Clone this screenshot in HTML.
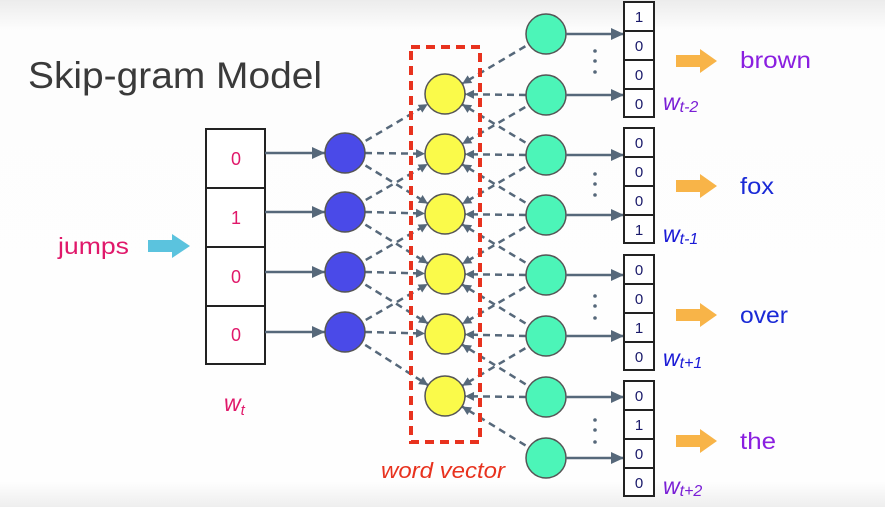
<!DOCTYPE html>
<html><head><meta charset="utf-8"><style>
html,body{margin:0;padding:0;background:#fff;}
svg{display:block;}
text{font-family:"Liberation Sans",sans-serif;}
</style></head><body>
<svg width="885" height="507" viewBox="0 0 885 507" xmlns="http://www.w3.org/2000/svg">
<defs>
<linearGradient id="bg" x1="0" y1="0" x2="0" y2="1">
<stop offset="0" stop-color="#ececec"/><stop offset="0.06" stop-color="#fdfdfd"/><stop offset="0.95" stop-color="#fefefe"/><stop offset="1" stop-color="#eeeeee"/>
</linearGradient>
<marker id="ah" markerUnits="userSpaceOnUse" markerWidth="60" markerHeight="20" viewBox="-40 -10 60 20" refX="0" refY="0" orient="auto">
<path d="M-29,-4.5 L-20,0 L-29,4.5 Z" fill="#56687a"/>
</marker>
<marker id="ah2" markerUnits="userSpaceOnUse" markerWidth="20" markerHeight="20" viewBox="-20 -10 20 20" refX="0" refY="0" orient="auto">
<path d="M-13,-6 L0,0 L-13,6 Z" fill="#56687a"/>
</marker>
</defs>
<rect width="885" height="507" fill="url(#bg)"/>
<text x="28" y="88" font-size="37" fill="#3a3a3a" textLength="294" lengthAdjust="spacingAndGlyphs">Skip-gram Model</text>

<g stroke="#222" stroke-width="2" fill="#fff">
<rect x="206" y="129" width="59" height="59"/><rect x="206" y="188" width="59" height="59"/>
<rect x="206" y="247" width="59" height="59"/><rect x="206" y="306" width="59" height="58"/>
</g>
<g font-size="18" fill="#e0186a" text-anchor="middle">
<text x="236" y="165">0</text><text x="236" y="224">1</text><text x="236" y="283">0</text><text x="236" y="341">0</text>
</g>
<text x="58" y="254" font-size="23" fill="#e0186a" textLength="71" lengthAdjust="spacingAndGlyphs">jumps</text>
<path d="M148,240 H172 V234 L190,246 L172,258 V252 H148 Z" fill="#5bc3de"/>
<text x="224" y="411" font-size="23" font-style="italic" font-family="Liberation Serif,serif" fill="#e0186a">w<tspan font-size="15" dy="4">t</tspan></text>

<g stroke="#56687a" stroke-width="2.5" marker-end="url(#ah2)">
<line x1="265" y1="153" x2="325" y2="153"/><line x1="265" y1="212" x2="325" y2="212"/>
<line x1="265" y1="272" x2="325" y2="272"/><line x1="265" y1="332" x2="325" y2="332"/>
</g>

<g stroke="#56687a" stroke-width="2.5" stroke-dasharray="7,5" marker-end="url(#ah)">
<line x1="345" y1="153" x2="445" y2="94"/><line x1="365" y1="153" x2="445" y2="154"/><line x1="345" y1="153" x2="445" y2="214"/>
<line x1="345" y1="212" x2="445" y2="154"/><line x1="365" y1="212" x2="445" y2="214"/><line x1="345" y1="212" x2="445" y2="274"/>
<line x1="345" y1="272" x2="445" y2="214"/><line x1="365" y1="272" x2="445" y2="274"/><line x1="345" y1="272" x2="445" y2="334"/>
<line x1="345" y1="332" x2="445" y2="274"/><line x1="365" y1="332" x2="445" y2="334"/><line x1="345" y1="332" x2="445" y2="396"/>

<line x1="546" y1="34" x2="445" y2="94"/>
<line x1="526" y1="95" x2="445" y2="94"/><line x1="546" y1="95" x2="445" y2="154"/>
<line x1="546" y1="155" x2="445" y2="94"/><line x1="526" y1="155" x2="445" y2="154"/><line x1="546" y1="155" x2="445" y2="214"/>
<line x1="546" y1="215" x2="445" y2="154"/><line x1="526" y1="215" x2="445" y2="214"/><line x1="546" y1="215" x2="445" y2="274"/>
<line x1="546" y1="275" x2="445" y2="214"/><line x1="526" y1="275" x2="445" y2="274"/><line x1="546" y1="275" x2="445" y2="334"/>
<line x1="546" y1="336" x2="445" y2="274"/><line x1="526" y1="336" x2="445" y2="334"/><line x1="546" y1="336" x2="445" y2="396"/>
<line x1="546" y1="397" x2="445" y2="334"/><line x1="526" y1="397" x2="445" y2="396"/>
<line x1="546" y1="458" x2="445" y2="396"/>
</g>

<rect x="411" y="47" width="69" height="395" fill="none" stroke="#e8321e" stroke-width="4" stroke-dasharray="9,6"/>
<text x="381" y="478" font-size="22" font-style="italic" fill="#e8321e" textLength="124" lengthAdjust="spacingAndGlyphs">word vector</text>

<g fill="#4a4ae8" stroke="#555" stroke-width="1.5">
<circle cx="345" cy="153" r="20"/><circle cx="345" cy="212" r="20"/><circle cx="345" cy="272" r="20"/><circle cx="345" cy="332" r="20"/>
</g>
<g fill="#fafa4a" stroke="#555" stroke-width="1.5">
<circle cx="445" cy="94" r="20"/><circle cx="445" cy="154" r="20"/><circle cx="445" cy="214" r="20"/>
<circle cx="445" cy="274" r="20"/><circle cx="445" cy="334" r="20"/><circle cx="445" cy="396" r="20"/>
</g>
<g fill="#4cf5b8" stroke="#555" stroke-width="1.5">
<circle cx="546" cy="34" r="20"/><circle cx="546" cy="95" r="20"/><circle cx="546" cy="155" r="20"/><circle cx="546" cy="215" r="20"/>
<circle cx="546" cy="275" r="20"/><circle cx="546" cy="336" r="20"/><circle cx="546" cy="397" r="20"/><circle cx="546" cy="458" r="20"/>
</g>

<g stroke="#56687a" stroke-width="2.5" marker-end="url(#ah2)">
<line x1="566" y1="34" x2="624" y2="34"/><line x1="566" y1="95" x2="624" y2="95"/>
<line x1="566" y1="155" x2="624" y2="155"/><line x1="566" y1="215" x2="624" y2="215"/>
<line x1="566" y1="275" x2="624" y2="275"/><line x1="566" y1="336" x2="624" y2="336"/>
<line x1="566" y1="397" x2="624" y2="397"/><line x1="566" y1="458" x2="624" y2="458"/>
</g>
<g fill="#56687a">
<circle cx="595" cy="51" r="1.8"/><circle cx="595" cy="61" r="1.8"/><circle cx="595" cy="72" r="1.8"/>
<circle cx="595" cy="174" r="1.8"/><circle cx="595" cy="184" r="1.8"/><circle cx="595" cy="195" r="1.8"/>
<circle cx="595" cy="296" r="1.8"/><circle cx="595" cy="306" r="1.8"/><circle cx="595" cy="318" r="1.8"/>
<circle cx="595" cy="420" r="1.8"/><circle cx="595" cy="430" r="1.8"/><circle cx="595" cy="442" r="1.8"/>
</g>

<g stroke="#222" stroke-width="2" fill="#fff">
<rect x="624" y="2" width="30" height="29"/><rect x="624" y="31" width="30" height="29"/><rect x="624" y="60" width="30" height="29"/><rect x="624" y="89" width="30" height="28"/>
<rect x="624" y="128" width="30" height="29"/><rect x="624" y="157" width="30" height="29"/><rect x="624" y="186" width="30" height="29"/><rect x="624" y="215" width="30" height="28"/>
<rect x="624" y="255" width="30" height="29"/><rect x="624" y="284" width="30" height="29"/><rect x="624" y="313" width="30" height="29"/><rect x="624" y="342" width="30" height="28"/>
<rect x="624" y="381" width="30" height="29"/><rect x="624" y="410" width="30" height="29"/><rect x="624" y="439" width="30" height="29"/><rect x="624" y="468" width="30" height="28"/>
</g>
<g font-size="15" fill="#1a1a6a" text-anchor="middle">
<text x="639" y="22">1</text><text x="639" y="51">0</text><text x="639" y="80">0</text><text x="639" y="109">0</text>
<text x="639" y="148">0</text><text x="639" y="177">0</text><text x="639" y="206">0</text><text x="639" y="235">1</text>
<text x="639" y="275">0</text><text x="639" y="304">0</text><text x="639" y="333">1</text><text x="639" y="362">0</text>
<text x="639" y="401">0</text><text x="639" y="430">1</text><text x="639" y="459">0</text><text x="639" y="488">0</text>
</g>
<g font-size="23" font-style="italic" font-family="Liberation Serif,serif">
<text x="663" y="110" fill="#7a1fd6">w<tspan font-size="16" dy="2">t-2</tspan></text>
<text x="663" y="242" fill="#1a1ad6">w<tspan font-size="16" dy="2">t-1</tspan></text>
<text x="663" y="366" fill="#1a1ad6">w<tspan font-size="16" dy="2">t+1</tspan></text>
<text x="663" y="494" fill="#7a1fd6">w<tspan font-size="16" dy="2">t+2</tspan></text>
</g>
<g fill="#f8b448">
<path d="M676,55 H700 V49 L717,61 L700,73 V67 H676 Z"/>
<path d="M676,180 H700 V174 L717,186 L700,198 V192 H676 Z"/>
<path d="M676,309 H700 V303 L717,315 L700,327 V321 H676 Z"/>
<path d="M676,435 H700 V429 L717,441 L700,453 V447 H676 Z"/>
</g>
<g font-size="23">
<text x="740" y="68" fill="#8a1fe0" textLength="71" lengthAdjust="spacingAndGlyphs">brown</text>
<text x="740" y="194" fill="#1a2ad6" textLength="34" lengthAdjust="spacingAndGlyphs">fox</text>
<text x="740" y="323" fill="#1a2ad6" textLength="48" lengthAdjust="spacingAndGlyphs">over</text>
<text x="740" y="449" fill="#8a1fe0" textLength="36" lengthAdjust="spacingAndGlyphs">the</text>
</g>
</svg>
</body></html>
